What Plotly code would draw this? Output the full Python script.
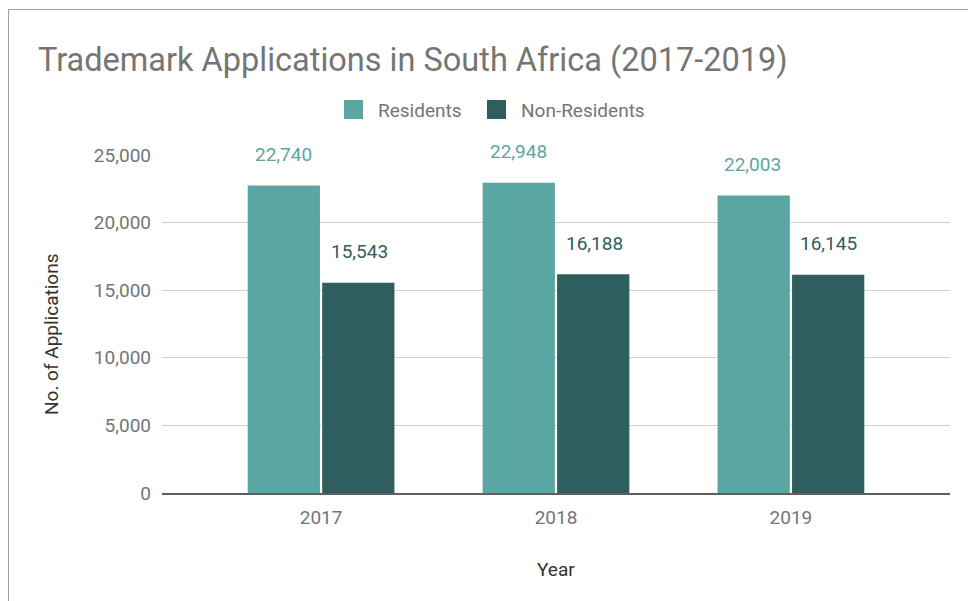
import plotly.graph_objects as go

# Data
years = ["2017", "2018", "2019"]
residents = [22740, 22948, 22003]
non_residents = [15543, 16188, 16145]
series_names = ["Residents", "Non-Residents"]
y_ticks = [0, 5000, 10000, 15000, 20000, 25000]

RES_COLOR = "#5aa6a2"
NONRES_COLOR = "#2e5e5d"
GREY = "#757575"
DARK = "#333333"
FONT = "Roboto"

W, H = 968, 601
ML, MR, MT, MB = 162, 18, 155, 108
PW, PH = W - ML - MR, H - MT - MB


def px_x(px):
    return (px - ML) / PW


def px_y(py):
    return (H - MB - py) / PH


fig = go.Figure()
fig.add_trace(go.Bar(name=series_names[0], x=years, y=residents,
                     marker=dict(color=RES_COLOR, line=dict(width=0)),
                     showlegend=False))
fig.add_trace(go.Bar(name=series_names[1], x=years, y=non_residents,
                     marker=dict(color=NONRES_COLOR, line=dict(width=0)),
                     showlegend=False))

annotations = []
# value labels above each bar (x given as category index)
for i, yr in enumerate(years):
    for vals, color, shift in ((residents, RES_COLOR, -38), (non_residents, NONRES_COLOR, 38)):
        annotations.append(dict(
            x=i, y=vals[i], xref="x", yref="y", text=f"{vals[i]:,}",
            showarrow=False, xshift=shift, yshift=31, yanchor="middle",
            font=dict(family=FONT, size=19, color=color)))

# axis titles
annotations.append(dict(x=px_x(51), y=px_y(334), xref="paper", yref="paper",
                        text="No. of Applications", textangle=-90, showarrow=False,
                        xanchor="center", yanchor="middle",
                        font=dict(family=FONT, size=19, color=DARK)))
annotations.append(dict(x=px_x(556), y=px_y(569), xref="paper", yref="paper",
                        text="Year", showarrow=False, xanchor="center", yanchor="middle",
                        font=dict(family=FONT, size=19, color=DARK)))

# legend
shapes = []
legend_items = [(series_names[0], RES_COLOR, 344, 376), (series_names[1], NONRES_COLOR, 487, 519)]
for name, color, sx, tx in legend_items:
    shapes.append(dict(type="rect", xref="paper", yref="paper",
                       x0=px_x(sx), x1=px_x(sx + 19), y0=px_y(119), y1=px_y(100),
                       fillcolor=color, line=dict(width=0)))
    annotations.append(dict(x=px_x(tx), y=px_y(110), xref="paper", yref="paper",
                            text=name, showarrow=False, xanchor="left", yanchor="middle",
                            font=dict(family=FONT, size=19, color=GREY)))

# outer frame
shapes.append(dict(type="rect", xref="paper", yref="paper",
                   x0=px_x(8.5), x1=px_x(990), y0=px_y(620), y1=px_y(9.5),
                   line=dict(color="#a0a0a0", width=1), fillcolor="rgba(0,0,0,0)",
                   layer="below"))

fig.update_layout(
    width=W, height=H,
    margin=dict(l=ML, r=MR, t=MT, b=MB),
    paper_bgcolor="white", plot_bgcolor="white",
    barmode="group", bargap=0.366, bargroupgap=0.03,
    title=dict(text="Trademark Applications in South Africa (2017-2019)",
               x=38 / W, xanchor="left", xref="container",
               y=1 - 60 / H, yanchor="middle", yref="container",
               font=dict(family=FONT, size=32.5, color=GREY)),
    xaxis=dict(type="category", range=[-0.677, 2.677], showgrid=False,
               showline=True, linecolor="#5f5f5f", linewidth=1.5,
               ticks="", tickfont=dict(family=FONT, size=19, color=GREY),
               ticklabelstandoff=6),
    yaxis=dict(range=[0, 25000], tickvals=y_ticks, tickformat=",",
               showgrid=True, gridcolor="#d0d0d0", gridwidth=1, zeroline=False,
               showline=False, ticks="", ticklabelstandoff=10,
               tickfont=dict(family=FONT, size=19, color=GREY)),
    annotations=annotations,
    shapes=shapes,
    showlegend=False,
)

fig.write_html("out.html")
